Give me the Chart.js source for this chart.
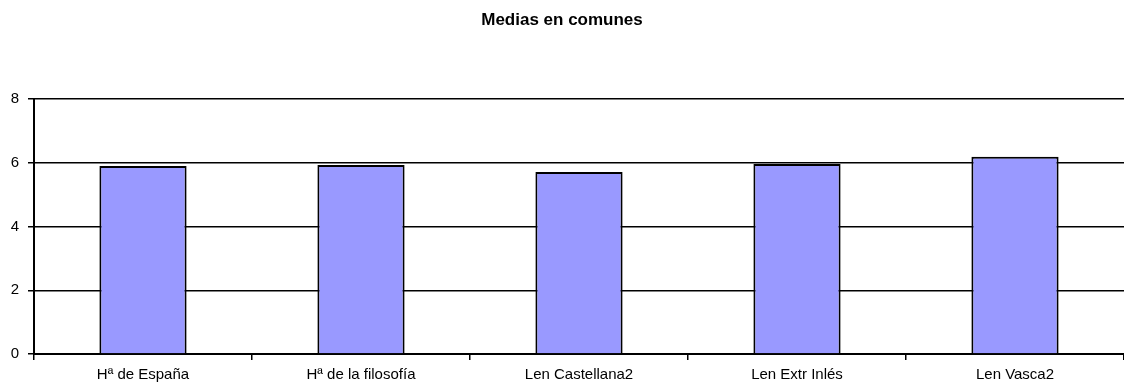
<!DOCTYPE html>
<html>
<head>
<meta charset="utf-8">
<script src="https://cdn.jsdelivr.net/npm/chart.js@4"></script>
<style>
  html, body { margin: 0; padding: 0; background: #fff; }
  #wrap { width: 1124px; height: 392px; }
</style>
</head>
<body>
<div id="wrap"><canvas id="myChart" width="1124" height="392"></canvas></div>
<script>
const categories = ["Hª de España", "Hª de la filosofía", "Len Castellana2", "Len Extr Inlés", "Len Vasca2"];
const medias = [5.9, 5.93, 5.71, 5.96, 6.19];
const yTicks = [0, 2, 4, 6, 8];

const ctx = document.getElementById("myChart").getContext("2d");

const myChart = new Chart(ctx, {
  type: "bar",
  data: {
    labels: categories,
    datasets: [
      {
        label: "Medias",
        data: medias,
        backgroundColor: "#9999FF",
        borderColor: "#000000",
        borderWidth: 2,
        barPercentage: 0.4,
        categoryPercentage: 1,
      },
    ],
  },
  options: {
    responsive: false,
    animation: false,
    layout: { padding: { left: 0, right: 0, top: 0, bottom: 0 } },
    plugins: {
      legend: { display: false },
      tooltip: { enabled: false },
      title: {
        display: true,
        text: "Medias en comunes",
        color: "#000",
        font: { family: "Arial, 'Liberation Sans'", size: 17, weight: "bold" },
        padding: { top: 10, bottom: 68.6 },
      },
    },
    scales: {
      x: {
        offset: true,
        grid: {
          offset: true,
          drawOnChartArea: false,
          drawTicks: true,
          tickLength: 6,
          color: "#000",
          lineWidth: 1.5,
        },
        border: { color: "#000", width: 2 },
        ticks: {
          color: "#000",
          padding: 6,
          font: { family: "Arial, 'Liberation Sans'", size: 15 },
        },
        afterFit: (scale) => {
          scale.height = 38;
        },
      },
      y: {
        min: 0,
        max: 8,
        afterBuildTicks: (scale) => {
          scale.ticks = yTicks.map((v) => ({ value: v }));
        },
        grid: {
          color: "#000",
          lineWidth: 1.5,
          tickLength: 6,
        },
        border: { color: "#000", width: 2 },
        ticks: {
          color: "#000",
          padding: 9,
          font: { family: "Arial, 'Liberation Sans'", size: 15 },
        },
        afterFit: (scale) => {
          scale.width = 34;
        },
      },
    },
  },
});
</script>
</body>
</html>
